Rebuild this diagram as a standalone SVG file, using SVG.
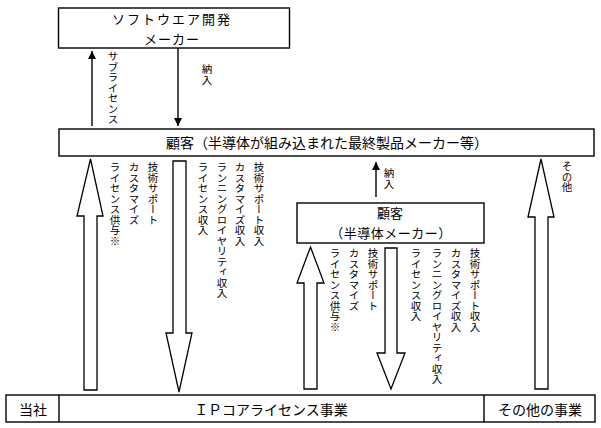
<svg xmlns="http://www.w3.org/2000/svg" width="601" height="428" viewBox="0 0 601 428">
<defs>
<style>
.box{fill:#fff;stroke:#000;stroke-width:1.4}
.blk{fill:#fff;stroke:#000;stroke-width:1.3;stroke-linejoin:miter}
.ln{stroke:#000;stroke-width:1.4;fill:none}
.t{font-family:"Noto Sans CJK JP","Noto Sans CJK SC",sans-serif;font-size:14px;fill:#000;text-anchor:middle;dominant-baseline:central}
.t2{font-size:13px}
.v{font-family:"Noto Sans CJK JP","Noto Sans CJK SC",sans-serif;font-size:10.5px;fill:#000;writing-mode:vertical-rl;text-anchor:start}
</style>
<marker id="ah" viewBox="0 0 8 10" refX="8" refY="5" markerWidth="8" markerHeight="10" markerUnits="userSpaceOnUse" orient="auto">
<path d="M0,1 L8,5 L0,9 Z" fill="#000"/>
</marker>
</defs>
<rect width="601" height="428" fill="#fff"/>

<g id="software-maker">
<rect class="box" x="58.5" y="8" width="231" height="40"/>
<text class="t t2" x="172" y="18.5" letter-spacing="2">ソフトウエア開発</text>
<text class="t t2" x="172" y="38" letter-spacing="1">メーカー</text>
</g>

<g id="customer-main">
<rect class="box" x="59" y="129" width="535" height="27"/>
<text class="t" x="327" y="142">顧客（半導体が組み込まれた最終製品メーカー等）</text>
</g>

<g id="customer-semi">
<rect class="box" x="297" y="203" width="187" height="40"/>
<text class="t t2" x="390" y="212.5">顧客</text>
<text class="t t2" x="391" y="232" letter-spacing="0.5">（半導体メーカー）</text>
</g>

<g id="company">
<rect class="box" x="6" y="395" width="589" height="27"/>
<line class="ln" x1="59" y1="395" x2="59" y2="422"/>
<line class="ln" x1="484" y1="395" x2="484" y2="422"/>
<text class="t" x="33" y="409" font-size="14.5">当社</text>
<text class="t" x="271" y="409" font-size="14.5">ＩＰコアライセンス事業</text>
<text class="t" x="540" y="409" font-size="14.5">その他の事業</text>
</g>

<g id="connectors">
<line class="ln" x1="92" y1="126" x2="92" y2="51" marker-end="url(#ah)"/>
<line class="ln" x1="178" y1="48" x2="178" y2="126" marker-end="url(#ah)"/>
<line class="ln" x1="376" y1="197" x2="376" y2="162" marker-end="url(#ah)"/>

<polygon class="blk" points="90.5,159 103,216 97,216 97,390 84,390 84,216 77,216"/>
<polygon class="blk" points="173,161 186,161 186,333 192,333 179,392 166,333 173,333"/>
<polygon class="blk" points="310.5,247 324,283 317,283 317,389 304,389 304,283 297,283"/>
<polygon class="blk" points="385,248 397,248 397,353 405,353 391,389 377,353 385,353"/>
<polygon class="blk" points="541,159 554,217 548,217 548,389 535,389 535,217 528,217"/>
</g>

<g id="labels">
<text class="v" x="113" y="51">サブライセンス</text>
<text class="v" x="207" y="64">納入</text>
<text class="v" x="389" y="168">納入</text>
<text class="v" x="567" y="161">その他</text>

<text class="v" x="115" y="162">ライセンス供与※</text>
<text class="v" x="134" y="162">カスタマイズ</text>
<text class="v" x="153" y="162">技術サポート</text>
<text class="v" x="203" y="162">ライセンス収入</text>
<text class="v" x="222" y="162">ランニングロイヤリティ収入</text>
<text class="v" x="240" y="162">カスタマイズ収入</text>
<text class="v" x="259" y="162">技術サポート収入</text>

<text class="v" x="335" y="248">ライセンス供与※</text>
<text class="v" x="354" y="248">カスタマイズ</text>
<text class="v" x="373" y="248">技術サポート</text>
<text class="v" x="416" y="248">ライセンス収入</text>
<text class="v" x="437" y="248">ランニングロイヤリティ収入</text>
<text class="v" x="456" y="248">カスタマイズ収入</text>
<text class="v" x="475" y="248">技術サポート収入</text>
</g>
</svg>
